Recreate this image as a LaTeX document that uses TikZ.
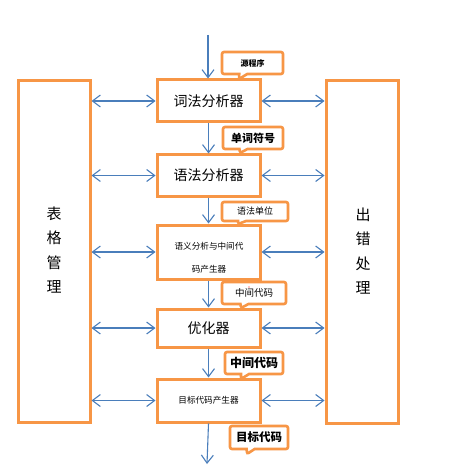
\documentclass[tikz,border=0pt]{standalone}
\usepackage{fontspec}
\newfontfamily\cjk{Noto Sans CJK SC}
\usetikzlibrary{arrows.meta,shapes.callouts}
\definecolor{borange}{RGB}{247,150,70}
\definecolor{ablue}{RGB}{74,126,187}
\tikzset{
  mainbox/.style={draw=borange,line width=3pt,fill=white,minimum width=103pt,inner sep=0pt,font=\cjk\fontsize{14}{16}\selectfont},
  sidebox/.style={draw=borange,line width=3pt,fill=white,minimum width=72pt,inner sep=0pt,align=center,font=\cjk\fontsize{15}{24.5}\selectfont},
  smalltext/.style={inner sep=0pt,align=center,font=\cjk\fontsize{8.6}{23}\selectfont},
  tag/.style={rectangle callout,draw=borange,line width=2.6pt,fill=white,rounded corners=2pt,inner sep=0pt,callout pointer width=8pt},
  flow/.style={draw=ablue,line width=1.1pt,-{Straight Barb[length=8pt,width=12pt,line width=1.1pt]}},
  dbl/.style={draw=ablue,line width=1.1pt,{Straight Barb[length=8pt,width=12pt,line width=1.1pt]}-{Straight Barb[length=8pt,width=12pt,line width=1.1pt]}}
}
\begin{document}
\begin{tikzpicture}[x=1pt,y=-1pt]
\fill[white] (0,0) rectangle (452,473);
\useasboundingbox (0,0) rectangle (452,473);
% side boxes
\node[sidebox,minimum height=341pt] (lt) at (54,251.5) {};
\node[inner sep=0pt,align=center,font=\cjk\fontsize{15}{24.5}\selectfont] (ltt) at (54,250) {表\\格\\管\\理};
\node[sidebox,minimum height=342pt] (rt) at (362,252) {};
\node[inner sep=0pt,align=center,font=\cjk\fontsize{15}{24.5}\selectfont] (rtt) at (363,251) {出\\错\\处\\理};
% main boxes
\node[mainbox,minimum height=42pt] (lex) at (208.5,101) {词法分析器};
\node[mainbox,minimum height=41pt] (syn) at (208.5,175.5) {语法分析器};
\node[mainbox,minimum height=54pt] (sem) at (208.5,252) {};
\node[smalltext] (semt) at (209,257.5) {语义分析与中间代\\码产生器};
\node[mainbox,minimum height=38pt] (opt) at (208.5,328) {优化器};
\node[mainbox,minimum height=43pt] (gen) at (208.5,400.5) {};
\node[smalltext] (gent) at (208.5,400) {目标代码产生器};
% flow arrows
\coordinate (in) at (208,35);
\coordinate (out) at (207,464);
\draw[flow] (in) -- (in |- lex.north);
\draw[flow] (lex.south) -- (syn.north);
\draw[flow] (syn.south) -- (sem.north);
\draw[flow] (sem.south) -- (opt.north);
\draw[flow] (opt.south) -- (gen.north);
\draw[flow] (gen.south) -- (out);
% double arrows
\foreach \b in {lex,syn,sem,opt,gen}{
  \draw[dbl] (\b.west -| lt.east) -- (\b.west);
  \draw[dbl] (\b.east) -- (\b.east -| rt.west);
}
% callouts
\node[tag,minimum width=61pt,minimum height=22pt,callout absolute pointer={(239,79)},font=\cjk\bfseries\fontsize{8}{9}\selectfont] (c1) at (252.5,63) {源程序};
\node[tag,minimum width=60pt,minimum height=22pt,callout absolute pointer={(240,153)},font=\cjk\bfseries\fontsize{11}{12}\selectfont] (c2) at (253,138) {单词符号};
\node[tag,minimum width=66pt,minimum height=19pt,callout absolute pointer={(238,224)},font=\cjk\fontsize{9}{10}\selectfont] (c3) at (255,211.5) {语法单位};
\node[tag,minimum width=64pt,minimum height=22pt,callout absolute pointer={(241,308)},font=\cjk\fontsize{9.5}{10}\selectfont] (c4) at (254,293) {中间代码};
\node[tag,minimum width=58pt,minimum height=22pt,callout absolute pointer={(241,379)},font=\cjk\bfseries\fontsize{12}{13}\selectfont] (c5) at (254,363) {中间代码};
\node[tag,minimum width=58pt,minimum height=23pt,callout absolute pointer={(247,454)},font=\cjk\bfseries\fontsize{11.5}{12}\selectfont] (c6) at (259,437.5) {目标代码};
\fill[red] (249,287) circle (0.7);
\end{tikzpicture}
\end{document}
